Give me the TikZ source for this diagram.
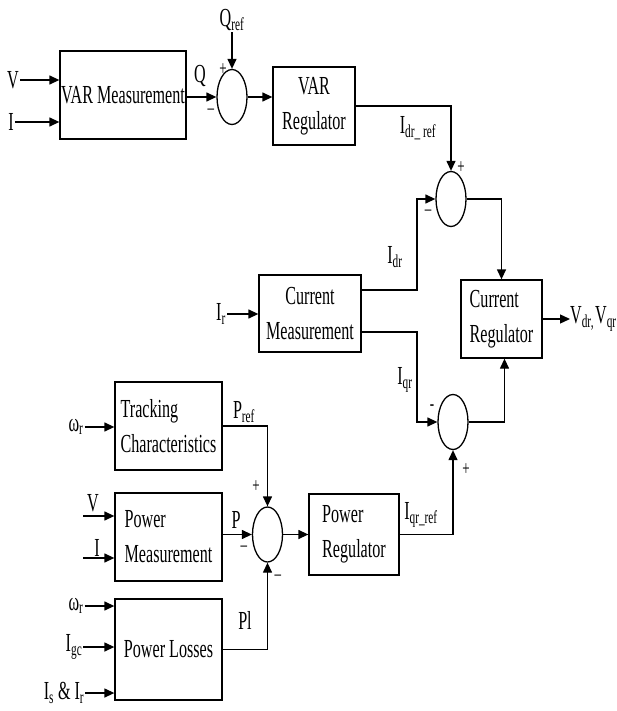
\documentclass[tikz,border=0pt]{standalone}
\usepackage{fontspec}
\setmainfont{Liberation Serif}[FakeStretch=0.62]
\usetikzlibrary{shapes.geometric,arrows.meta}

\begin{document}
\begin{tikzpicture}[x=1pt, y=-1pt,
  font=\fontsize{26}{35}\selectfont,
  blocknode/.style={shape=rectangle, draw=black, line width=1.3, inner sep=0, align=center},
  leftnode/.style={blocknode, align=left},
  sumnode/.style={shape=ellipse, draw=black, line width=1.3, minimum width=30, minimum height=55, inner sep=0},
  txtnode/.style={inner sep=1},
  signnode/.style={inner sep=0, font=\fontsize{21}{21}\selectfont},
  arrowline/.style={line width=1.3, -{Triangle[length=10pt, width=9pt]}},
]
\useasboundingbox (0,0) rectangle (616,711);

%%%blocks
\node[blocknode, minimum width=126, minimum height=88] (varmeas) at (123,95) {VAR Measurement};
\node[blocknode, minimum width=82, minimum height=78] (varreg) at (314,106) {VAR\\Regulator};
\node[blocknode, minimum width=102, minimum height=77] (curmeas) at (310,313.5) {Current\\Measurement};
\node[leftnode, minimum width=81, minimum height=78] (curreg) at (501.5,319) {Current\\Regulator};
\node[leftnode, minimum width=107, minimum height=88] (track) at (168.5,426) {Tracking\\Characteristics};
\node[leftnode, minimum width=107, minimum height=88] (powmeas) at (168.5,537) {Power\\Measurement};
\node[blocknode, minimum width=107, minimum height=101] (powloss) at (168.5,649.5) {Power Losses};
\node[leftnode, minimum width=90, minimum height=81] (powreg) at (354,534.5) {Power\\Regulator};

%%%summing junctions
\node[sumnode] (sum1) at (232,97) {};
\node[sumnode] (sum2) at (451,199) {};
\node[sumnode] (sum3) at (453,422) {};
\node[sumnode] (sum4) at (267.5,534.5) {};

%%%signals
\node[txtnode] (vin) at (13,80) {V};
\node[txtnode] (iin) at (11,122) {I};
\node[txtnode] (q) at (200,76) {Q};
\node[txtnode] (qref) at (232,20) {Q\textsubscript{ref}};
\node[txtnode] (idrref) at (418,128) {I\textsubscript{dr\_ ref}};
\node[txtnode] (idr) at (395,257) {I\textsubscript{dr}};
\node[txtnode] (ir) at (221,314) {I\textsubscript{r}};
\node[txtnode] (iqr) at (405,380) {I\textsubscript{qr}};
\node[inner sep=0, anchor=west] (vout) at (570,319) {V\textsubscript{dr,}\kern1pt V\textsubscript{qr}};
\node[txtnode] (wr1) at (76,427) {ω\textsubscript{r}};
\node[txtnode] (pref) at (244,412) {P\textsubscript{ref}};
\node[txtnode] (vp) at (93,503) {V};
\node[txtnode] (ip) at (97,548) {I};
\node[txtnode] (p) at (236,520) {P};
\node[txtnode] (iqrref) at (421,515) {I\textsubscript{qr\_ref}};
\node[txtnode] (pl) at (245,620) {Pl};
\node[txtnode] (wr2) at (76,606) {ω\textsubscript{r}};
\node[txtnode] (igc) at (74,647) {I\textsubscript{gc}};
\node[txtnode] (isir) at (64,693) {I\textsubscript{s} \& I\textsubscript{r}};

%%%signs
\foreach \x/\y/\t [count=\i] in {223/70/+, 211/112/–, 461/168/+, 428/213/–,
    432/408/-, 466/470/+, 256/487/+, 244/549/–, 278/578/–}
  \node[signnode] (sign\i) at (\x,\y) {\t};

%%%connectors
\coordinate (vpin) at (83,516);
\coordinate (ipin) at (83,558);
\coordinate (kd) at (417,290);
\coordinate (kq) at (417,332);

\draw[arrowline] (vin.east) -- (vin -| varmeas.west);
\draw[arrowline] (iin.east) -- (iin -| varmeas.west);
\draw[arrowline] (varmeas.east |- sum1) -- (sum1.west);
\draw[arrowline] (qref.south) -- (sum1.north);
\draw[arrowline] (sum1.east) -- (sum1 -| varreg.west);
\draw[arrowline] (varreg.east) -| (sum2.north);
\draw[arrowline] (curmeas.east |- kd) -- (kd) |- (sum2.west);
\draw[arrowline] (sum2.east) -| (curreg.north);
\draw[arrowline] (ir.east) -- (ir -| curmeas.west);
\draw[arrowline] (curmeas.east |- kq) -- (kq) |- (sum3.west);
\draw[arrowline] (sum3.east) -| ([xshift=3pt]curreg.south);
\draw[arrowline] (curreg.east) -- (vout.west);
\draw[arrowline] (powreg.east) -| (sum3.south);

\draw[arrowline] (wr1.east) -- (wr1 -| track.west);
\draw[arrowline] (track.east) -| (sum4.north);
\draw[arrowline] (vpin) -- (vpin -| powmeas.west);
\draw[arrowline] (ipin) -- (ipin -| powmeas.west);
\draw[arrowline] (powmeas.east |- sum4) -- (sum4.west);
\draw[arrowline] (powloss.east) -| (sum4.south);
\draw[arrowline] (sum4.east) -- (sum4 -| powreg.west);
\draw[arrowline] (wr2.east) -- (wr2 -| powloss.west);
\draw[arrowline] (igc.east) -- (igc -| powloss.west);
\draw[arrowline] (isir.east) -- (isir -| powloss.west);

\end{tikzpicture}
\end{document}
